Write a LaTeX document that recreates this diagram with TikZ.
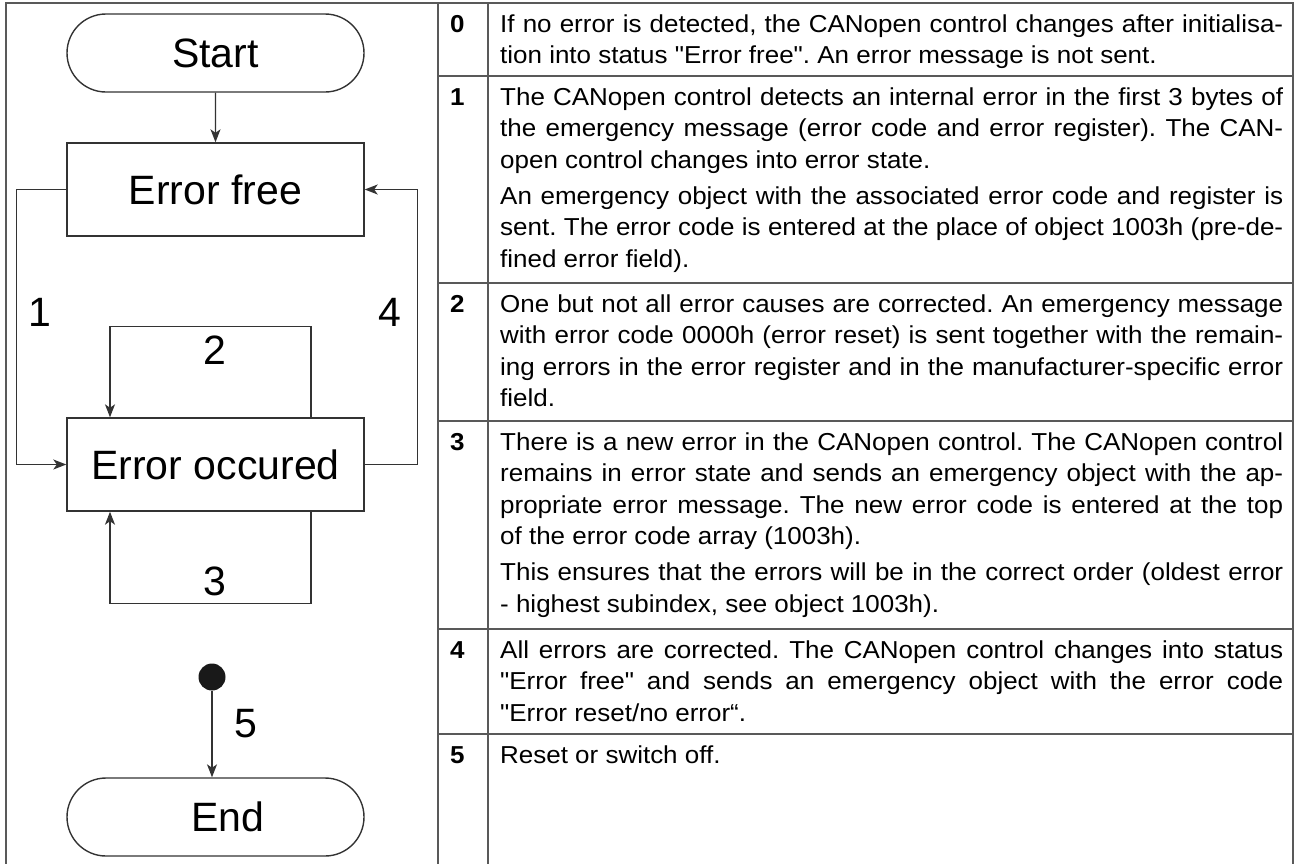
\documentclass[tikz,border=0pt]{standalone}
\usepackage{fontspec}
\setmainfont{Liberation Sans}
\newfontfamily\tabfont[FakeStretch=1.06]{Liberation Sans}
\usetikzlibrary{arrows.meta,shapes.misc}
\frenchspacing
\newcommand{\rowtext}[1]{\parbox[t]{783pt}{\frenchspacing\hyphenpenalty=10000\relax\parskip=4.5pt\relax\baselineskip=31.5pt\relax #1}}
\begin{document}
\begin{tikzpicture}[x=1pt,y=-1pt,
  frame/.style={draw=black!65, line width=1.6pt},
  conn/.style={draw=black!80, line width=1.4pt},
  arr/.style={conn, -{Stealth[length=13pt,width=10pt,inset=3.5pt]}},
  bigtext/.style={font=\fontsize{41}{48}\selectfont},
  stadium/.style={rounded rectangle, draw=black!80, line width=1.4pt, minimum width=297pt, minimum height=78pt, inner sep=0pt, bigtext},
  state/.style={rectangle, draw=black!80, line width=1.4pt, minimum width=297pt, minimum height=93pt, inner sep=0pt, bigtext},
  lbl/.style={inner sep=0pt, bigtext},
  num/.style={anchor=base west, inner sep=0pt, font=\tabfont\bfseries\fontsize{24.5}{31.5}\selectfont},
  desc/.style={anchor=base west, inner sep=0pt, font=\tabfont\fontsize{24.5}{31.5}\selectfont},
]
\path[use as bounding box] (0,0) rectangle (1299,863);
\clip (0,0) rectangle (1299,863);

% frame and table grid
\draw[frame] (6,870) -- (6,3) -- (1293,3) -- (1293,870);
\draw[frame] (438,3) -- (438,870);
\draw[frame] (488,3) -- (488,870);
\foreach \yy in {76,283,421,629,734} \draw[frame] (438,\yy) -- (1293,\yy);

% diagram
\node[stadium] (start) at (215.5,53) {Start};
\node[state] (free) at (215.5,189.5) {Error free};
\node[state] (occ) at (215.5,464.5) {Error occured};
\node[circle, fill=black!90, inner sep=0pt, minimum size=27pt] (dot) at (212,677) {};
\node[stadium] (end) at (215.5,817) {\hspace*{25pt}End};

\draw[arr] (start) -- (free);
\draw[arr] (free.west) -- ++(-50,0) |- (occ.west);
\draw[arr] (occ.east) -- ++(53,0) |- (free.east);
\draw[arr] ([xshift=95.5pt]occ.north) -- ++(0,-91) -| ([xshift=-105.5pt]occ.north);
\draw[arr] ([xshift=95.5pt]occ.south) -- ++(0,92) -| ([xshift=-105.5pt]occ.south);
\draw[arr] (dot) -- (dot |- end.north);

\node[lbl] (l1) at (40,312) {1};
\node[lbl] (l4) at (390,312) {4};
\node[lbl] (l2) at (215,350) {2};
\node[lbl] (l3) at (215,581) {3};
\node[lbl] (l5) at (246,724) {5};

% table numbers
\node[num] (n0) at (450,32) {0};
\node[num] (n1) at (450,105) {1};
\node[num] (n2) at (450,312) {2};
\node[num] (n3) at (450,450) {3};
\node[num] (n4) at (450,658) {4};
\node[num] (n5) at (450,763) {5};

% table texts
\node[desc] (t0) at (500,32) {\rowtext{If no error is detected, the CANopen control changes after initialisa-\linebreak tion into status "Error free". An error message is not sent.}};
\node[desc] (t1) at (500,105) {\rowtext{The CANopen control detects an internal error in the first 3 bytes of\linebreak the emergency message (error code and error register). The CAN-\linebreak open control changes into error state.\par An emergency object with the associated error code and register is\linebreak sent. The error code is entered at the place of object 1003h (pre-de-\linebreak fined error field).}};
\node[desc] (t2) at (500,312) {\rowtext{One but not all error causes are corrected. An emergency message\linebreak with error code 0000h (error reset) is sent together with the remain-\linebreak ing errors in the error register and in the manufacturer-specific error\linebreak field.}};
\node[desc] (t3) at (500,450) {\rowtext{There is a new error in the CANopen control. The CANopen control\linebreak remains in error state and sends an emergency object with the ap-\linebreak propriate error message. The new error code is entered at the top\linebreak of the error code array (1003h).\par This ensures that the errors will be in the correct order (oldest error\linebreak - highest subindex, see object 1003h).}};
\node[desc] (t4) at (500,658) {\rowtext{All errors are corrected. The CANopen control changes into status\linebreak "Error free" and sends an emergency object with the error code\linebreak "Error reset/no error“.}};
\node[desc] (t5) at (500,763) {\rowtext{Reset or switch off.}};
\end{tikzpicture}
\end{document}
